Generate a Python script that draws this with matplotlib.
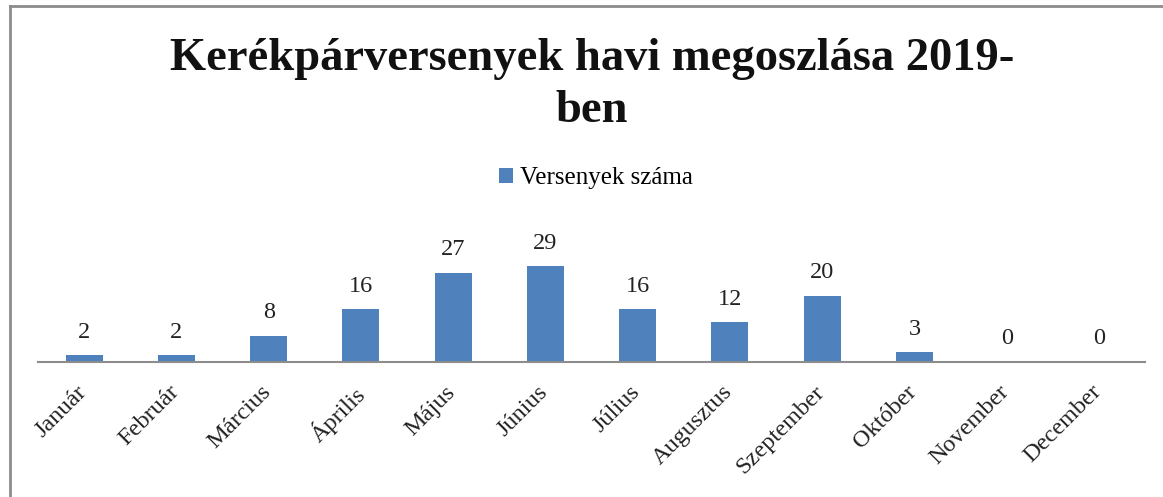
import matplotlib.pyplot as plt
import matplotlib.transforms as mtransforms
from matplotlib.lines import Line2D

months = ['Január', 'Február', 'Március', 'Április', 'Május', 'Június',
          'Július', 'Augusztus', 'Szeptember', 'Október', 'November', 'December']
races = [2, 2, 8, 16, 27, 29, 16, 12, 20, 3, 0, 0]

W, H = 1163, 497
fig = plt.figure(figsize=(W / 100, H / 100), dpi=100)
plt.rcParams['font.family'] = ['Liberation Serif', 'DejaVu Serif']

# plot area (pixel coords of the reference)
left, right, base, top = 38, 1145, 362, 229.6
ax = fig.add_axes([left / W, (H - base) / H, (right - left) / W, (base - top) / H])

x = range(len(months))
bars = ax.bar(x, races, width=0.4, color='#4F81BD', label='Versenyek száma')
ax.set_xlim(-0.5, len(months) - 0.5)
ax.set_ylim(0, 40)

# value labels above bars
for xi, v in zip(x, races):
    ax.annotate(str(v), (xi, v), xytext=(0, 9), textcoords='offset points',
                ha='center', va='bottom', fontsize=17.5, color='#222222')

ax.set_xticks(list(x))
ax.set_xticklabels(months, rotation=45, ha='right', rotation_mode='anchor',
                   fontsize=17.5, color='#222222')
ax.tick_params(axis='x', length=0, pad=14)
shift = mtransforms.ScaledTranslation(-8 / 100, 0, fig.dpi_scale_trans)
for lbl in ax.get_xticklabels():
    lbl.set_transform(lbl.get_transform() + shift)
ax.set_yticks([])
for s in ['top', 'right', 'left']:
    ax.spines[s].set_visible(False)
ax.spines['bottom'].set_color('#8c8c8c')
ax.spines['bottom'].set_linewidth(1.5)

fig.text(592 / W, 1 - 85 / H, 'Kerékpárversenyek havi megoszlása 2019-\nben',
         ha='center', va='center', fontsize=33.5, fontweight='bold',
         linespacing=1.33, color='#111111')

ax.legend(loc='center', bbox_to_anchor=(596 / W, 1 - 178 / H),
          bbox_transform=fig.transFigure, frameon=False, fontsize=18,
          handlelength=0.55, handleheight=0.55, handletextpad=0.3)

# outer frame (left and top edges only)
fig.add_artist(Line2D([10 / W, 10 / W], [0, 1 - 6 / H], transform=fig.transFigure,
                      color='#8c8c8c', lw=2))
fig.add_artist(Line2D([10 / W, 1], [1 - 6 / H, 1 - 6 / H], transform=fig.transFigure,
                      color='#8c8c8c', lw=2))

fig.savefig('out.png', dpi=100)
